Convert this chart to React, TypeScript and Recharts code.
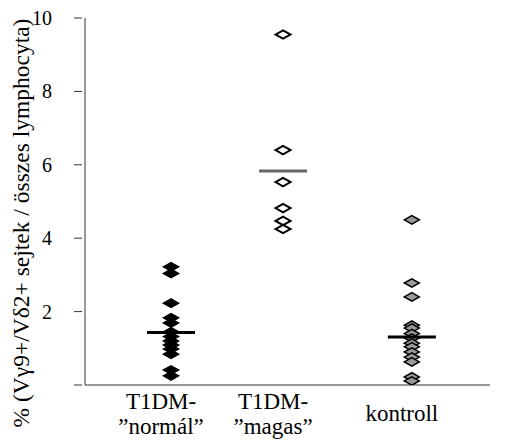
import React from 'react';
import { ScatterChart, Scatter, XAxis, YAxis } from 'recharts';

// ---- data ----
const categories = ['T1DM-\n”normál”', 'T1DM-\n”magas”', 'kontroll'];
const categoryX = [1, 2, 3.15];
const yTicks = [0, 2, 4, 6, 8, 10];

const normalValues = [3.22, 3.04, 2.23, 1.83, 1.69, 1.45, 1.32, 1.2, 1.09, 0.98, 0.84, 0.41, 0.25];
const magasValues = [9.55, 6.4, 5.53, 4.82, 4.47, 4.25];
const kontrollValues = [4.5, 2.78, 2.4, 1.63, 1.55, 1.4, 1.28, 1.14, 1.04, 0.9, 0.76, 0.63, 0.22, 0.11];
const groupMeans = [1.43, 5.83, 1.31];

const FONT = "'Liberation Serif', Tinos, 'DejaVu Serif', serif";

const toPoints = (values: number[], gi: number) => values.map((v) => ({ x: categoryX[gi], y: v }));
const normalData = toPoints(normalValues, 0);
const magasData = toPoints(magasValues, 1);
const kontrollData = toPoints(kontrollValues, 2);
const meanData = groupMeans.map((m, i) => ({ x: categoryX[i], y: m, g: i }));

const diamond = (fill: string, stroke: string, sw: number) => (props: any) => {
  const { cx, cy } = props;
  const hw = 7.5;
  const hh = 4.2;
  return (
    <polygon
      points={`${cx - hw},${cy} ${cx},${cy - hh} ${cx + hw},${cy} ${cx},${cy + hh}`}
      fill={fill}
      stroke={stroke}
      strokeWidth={sw}
      strokeLinejoin="miter"
    />
  );
};

const MeanLine = (props: any) => {
  const { cx, cy, payload } = props;
  const color = payload.g === 1 ? '#666' : '#000';
  return <line x1={cx - 24} x2={cx + 24} y1={cy} y2={cy} stroke={color} strokeWidth={3} />;
};

const YTick = (props: any) => {
  const { x, y, payload } = props;
  return (
    <g>
      <line x1={x - 11} x2={x - 3} y1={y} y2={y} stroke="#333" strokeWidth={1} />
      {payload.value !== 0 && (
        <text x={x - 33} y={y} dy="0.35em" textAnchor="end" fontFamily={FONT} fontSize={20} fill="#000">
          {payload.value}
        </text>
      )}
    </g>
  );
};

const XTick = (props: any) => {
  const { x, y, payload } = props;
  const idx = categoryX.indexOf(payload.value);
  if (idx < 0) return null;
  const lines = categories[idx].split('\n');
  const cx = x - 10;
  if (lines.length === 1) {
    return (
      <text x={cx} y={y + 36} textAnchor="middle" fontFamily={FONT} fontSize={23} fill="#000">
        {lines[0]}
      </text>
    );
  }
  return (
    <text textAnchor="middle" fontFamily={FONT} fontSize={23} fill="#000">
      <tspan x={cx} y={y + 24}>{lines[0]}</tspan>
      <tspan x={cx} y={y + 49}>{lines[1]}</tspan>
    </text>
  );
};

const YTitle = () => (
  <text
    x={29}
    y={223}
    transform="rotate(-90 29 223)"
    textAnchor="middle"
    fontFamily={FONT}
    fontSize={23.5}
    fill="#000"
  >
    % (Vγ9+/Vδ2+ sejtek / összes lymphocyta)
  </text>
);

export default function App() {
  return (
    <div style={{ position: 'absolute', left: 0, top: 0, width: 511, height: 444, background: '#fff', fontFamily: FONT }}>
      <ScatterChart width={511} height={444} margin={{ top: 18, right: 21, bottom: 0, left: 0 }} style={{ fontFamily: FONT }}>
        <XAxis
          type="number"
          dataKey="x"
          domain={[0.232, 3.848]}
          ticks={categoryX}
          tick={<XTick />}
          tickLine={false}
          tickSize={0}
          tickMargin={0}
          height={59}
          axisLine={{ stroke: '#333', strokeWidth: 1 }}
          allowDataOverflow
        />
        <YAxis
          type="number"
          dataKey="y"
          domain={[0, 10]}
          ticks={yTicks}
          tick={<YTick />}
          tickLine={false}
          tickSize={0}
          tickMargin={0}
          width={85}
          axisLine={{ stroke: '#333', strokeWidth: 1 }}
          label={{ content: () => <YTitle /> }}
          allowDataOverflow
        />
        <Scatter data={normalData} shape={diamond('#000', '#000', 1.5)} isAnimationActive={false} />
        <Scatter data={magasData} shape={diamond('#fff', '#000', 2)} isAnimationActive={false} />
        <Scatter data={kontrollData} shape={diamond('#9a9a9a', '#000', 1.5)} isAnimationActive={false} />
        <Scatter data={meanData} shape={<MeanLine />} isAnimationActive={false} />
      </ScatterChart>
    </div>
  );
}
